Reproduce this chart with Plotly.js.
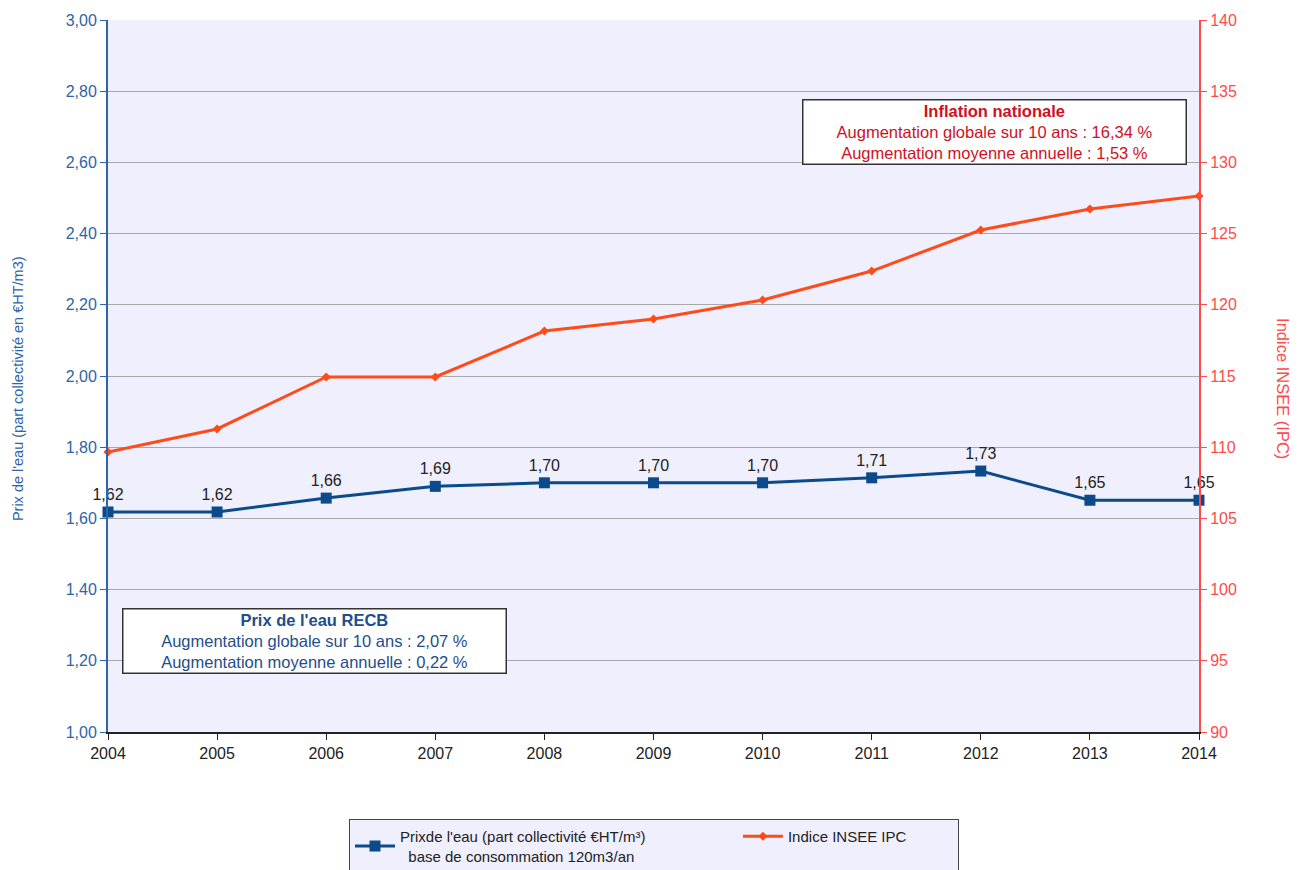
<!DOCTYPE html>
<html>
<head>
<meta charset="utf-8">
<script src="https://cdn.plot.ly/plotly-3.0.1.min.js"></script>
<style>html,body{margin:0;padding:0;background:#fff;}#chart{width:1303px;height:870px;}</style>
</head>
<body>
<div id="chart"></div>
<script>
const years = [2004, 2005, 2006, 2007, 2008, 2009, 2010, 2011, 2012, 2013, 2014];
const prixEau = [1.618, 1.618, 1.657, 1.690, 1.700, 1.700, 1.700, 1.714, 1.733, 1.651, 1.651];
const indiceIPC = [109.66, 111.28, 114.93, 114.93, 118.16, 119.0, 120.34, 122.37, 125.25, 126.73, 127.64];
const leftTicks = [1.0, 1.2, 1.4, 1.6, 1.8, 2.0, 2.2, 2.4, 2.6, 2.8, 3.0];
const rightTicks = [90, 95, 100, 105, 110, 115, 120, 125, 130, 135, 140];
const seriesNames = ["Prixde l'eau (part collectivité €HT/m³)", "base de consommation 120m3/an", "Indice INSEE IPC"];

const blue = '#0B4A8B';
const axisBlue = '#2E64A8';
const orange = '#FF4B1A';
const red = '#FF4A4A';
const darkRed = '#D0101E';
const font = 'Liberation Sans, Arial, sans-serif';
const sp = n => '\u00a0'.repeat(n);

const traces = [
  {
    x: years, y: prixEau, yaxis: 'y', type: 'scatter',
    mode: 'lines+markers+text',
    name: seriesNames[0] + sp(21) + '<br>' + sp(2) + seriesNames[1],
    line: {color: blue, width: 3},
    marker: {symbol: 'square', size: 11, color: blue},
    texttemplate: '%{y:.2f}', textposition: 'top center',
    textfont: {family: font, size: 16, color: '#222'},
    cliponaxis: false
  },
  {
    x: years, y: indiceIPC, yaxis: 'y2', type: 'scatter',
    mode: 'lines+markers',
    name: seriesNames[2] + sp(11),
    line: {color: orange, width: 3},
    marker: {symbol: 'diamond', size: 7, color: orange},
    cliponaxis: false
  }
];

const layout = {
  width: 1303, height: 870,
  margin: {l: 108, r: 104, t: 20, b: 138, autoexpand: false},
  paper_bgcolor: '#ffffff',
  plot_bgcolor: '#EFEFFD',
  separators: ', ',
  font: {family: font, size: 14, color: '#222'},
  showlegend: true,
  legend: {
    orientation: 'h', x: 0.2209, xanchor: 'left', y: -0.1222, yanchor: 'top',
    bgcolor: '#EFEFFD', bordercolor: '#444', borderwidth: 1,
    font: {family: font, size: 15, color: '#222'},
    traceorder: 'normal', itemwidth: 40
  },
  xaxis: {
    range: [2004, 2014], tickvals: years, ticktext: years.map(String),
    showgrid: false, zeroline: false,
    showline: true, linecolor: '#222', linewidth: 2,
    ticks: 'outside', ticklen: 6, tickcolor: '#222', tickwidth: 1,
    tickfont: {family: font, size: 16, color: '#222'}
  },
  yaxis: {
    range: [1.0, 3.0], tickvals: leftTicks, tickformat: '.2f',
    showgrid: true, gridcolor: '#A8A8A8', gridwidth: 1, zeroline: false,
    showline: true, linecolor: axisBlue, linewidth: 2,
    ticks: 'outside', ticklen: 6, tickcolor: axisBlue,
    tickfont: {family: font, size: 16, color: axisBlue}
  },
  yaxis2: {
    range: [90, 140], tickvals: rightTicks, overlaying: 'y', side: 'right',
    showgrid: false, zeroline: false,
    showline: true, linecolor: red, linewidth: 2,
    ticks: 'outside', ticklen: 6, tickcolor: red,
    tickfont: {family: font, size: 16, color: red}
  },
  annotations: [
    {
      xref: 'paper', yref: 'paper', x: -0.0825, y: 0.483, xanchor: 'center', yanchor: 'middle',
      text: "Prix de l'eau (part collectivité en €HT/m3)", textangle: -90, showarrow: false,
      font: {family: font, size: 14.5, color: axisBlue}
    },
    {
      xref: 'paper', yref: 'paper', x: 1.077, y: 0.483, xanchor: 'center', yanchor: 'middle',
      text: 'Indice INSEE (IPC)', textangle: 90, showarrow: false,
      font: {family: font, size: 16.5, color: red}
    },
    {
      xref: 'paper', yref: 'paper', x: 0.813, y: 0.8427, xanchor: 'center', yanchor: 'middle',
      text: '<b>Inflation nationale</b><br>Augmentation globale sur 10 ans : 16,34 %<br>Augmentation moyenne annuelle : 1,53 %',
      showarrow: false, align: 'center',
      font: {family: font, size: 16.5, color: darkRed},
      bgcolor: '#ffffff', bordercolor: '#333', borderwidth: 1.5, borderpad: 1,
      width: 380
    },
    {
      xref: 'paper', yref: 'paper', x: 0.189, y: 0.1278, xanchor: 'center', yanchor: 'middle',
      text: "<b>Prix de l'eau RECB</b><br>Augmentation globale sur 10 ans : 2,07 %<br>Augmentation moyenne annuelle : 0,22 %",
      showarrow: false, align: 'center',
      font: {family: font, size: 16.5, color: '#1F4E8C'},
      bgcolor: '#ffffff', bordercolor: '#333', borderwidth: 1.5, borderpad: 1,
      width: 380
    }
  ]
};

Plotly.newPlot('chart', traces, layout, {displayModeBar: false, staticPlot: true});
</script>
</body>
</html>
